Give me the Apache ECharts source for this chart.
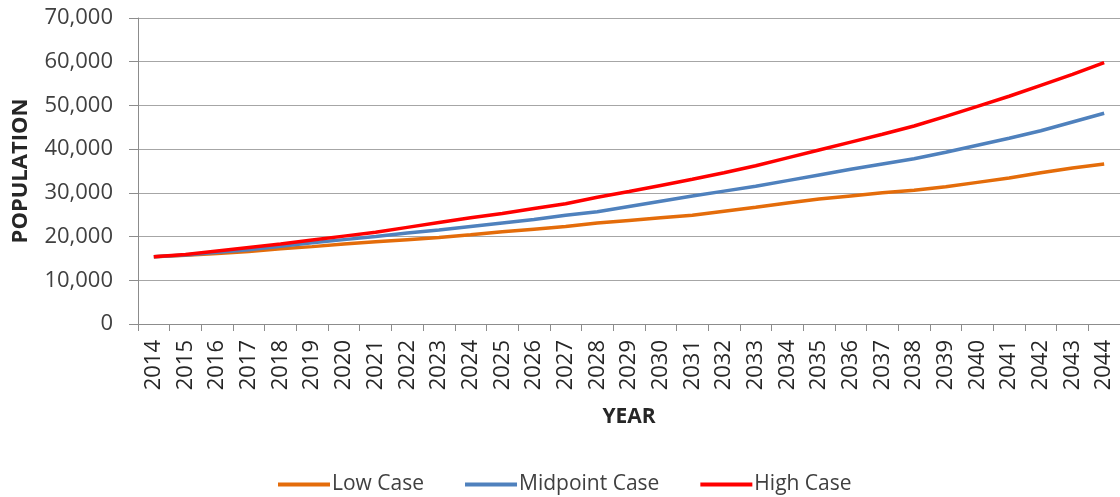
<!DOCTYPE html>
<html>
<head>
<meta charset="utf-8">
<script src="https://cdn.jsdelivr.net/npm/echarts@6/dist/echarts.min.js"></script>
<style>html,body{margin:0;padding:0;background:#fff;overflow:hidden}#c{width:1120px;height:497px}</style>
</head>
<body>
<div id="c"></div>
<script>
const years = ['2014','2015','2016','2017','2018','2019','2020','2021','2022','2023','2024','2025','2026','2027','2028','2029','2030','2031','2032','2033','2034','2035','2036','2037','2038','2039','2040','2041','2042','2043','2044'];
const lowCase = [15400,15700,16100,16600,17200,17700,18300,18800,19300,19800,20400,21100,21700,22300,23100,23700,24300,24900,25800,26700,27700,28600,29300,30000,30600,31400,32400,33400,34600,35700,36600];
const midCase = [15400,15800,16400,17000,17800,18600,19300,20000,20800,21500,22300,23100,23900,24900,25700,26900,28100,29300,30400,31500,32800,34100,35400,36600,37800,39300,40900,42500,44200,46200,48200];
const highCase = [15400,15900,16700,17500,18300,19200,20100,21000,22100,23200,24300,25300,26400,27500,29000,30300,31700,33100,34600,36200,38000,39800,41600,43400,45300,47500,49800,52100,54600,57100,59800];
const yTicks = {min:0, max:70000, interval:10000};

const font = 'Open Sans';
const chart = echarts.init(document.getElementById('c'));
const mk = (name, data, color) => ({
  name, type:'line', data, symbol:'none', smooth:false,
  lineStyle:{color, width:3.5}, itemStyle:{color}
});
chart.setOption({
  animation:false,
  grid:{left:138, width:983, top:18, height:306},
  legend:{
    top:474, left:278, padding:0, itemWidth:52, itemHeight:4, itemGap:41, icon:'rect',
    textStyle:{fontFamily:font, fontSize:21, color:'#404040', padding:[0,0,0,-3]},
    data:['Low Case','Midpoint Case','High Case']
  },
  xAxis:{
    type:'category', data:years, boundaryGap:true,
    name:'YEAR', nameLocation:'middle', nameGap:83,
    nameTextStyle:{fontFamily:font, fontSize:21, fontWeight:'bold', color:'#262626'},
    axisLine:{lineStyle:{color:'#8c8c8c', width:1}},
    axisTick:{show:true, length:7, lineStyle:{color:'#8c8c8c'}},
    axisLabel:{rotate:90, fontFamily:font, fontSize:22, color:'#262626', margin:16, interval:0}
  },
  yAxis:{
    type:'value', min:yTicks.min, max:yTicks.max, interval:yTicks.interval,
    name:'POPULATION', nameLocation:'middle', nameGap:106, nameRotate:90,
    nameTextStyle:{fontFamily:font, fontSize:22, fontWeight:'bold', color:'#262626'},
    axisLine:{show:true, lineStyle:{color:'#8c8c8c', width:1}},
    axisTick:{show:true, length:9, lineStyle:{color:'#8c8c8c'}},
    splitLine:{lineStyle:{color:'#a6a6a6', width:1}},
    axisLabel:{fontFamily:font, fontSize:22, color:'#404040', margin:25,
      formatter: v => v.toLocaleString('en-US')}
  },
  series:[
    mk('Low Case', lowCase, '#E46C0A'),
    mk('Midpoint Case', midCase, '#4F81BD'),
    mk('High Case', highCase, '#FF0000')
  ]
});
</script>
</body>
</html>
